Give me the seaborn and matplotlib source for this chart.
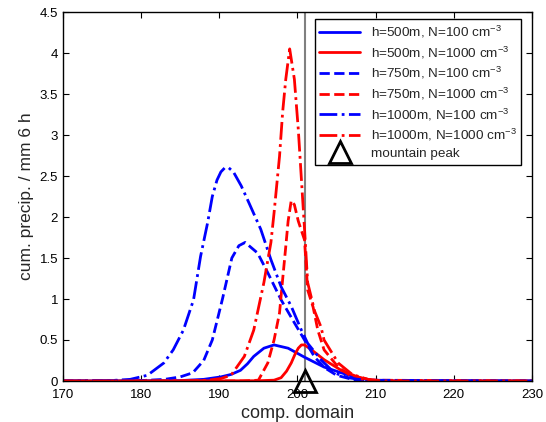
import matplotlib
matplotlib.use('Agg')
import matplotlib.pyplot as plt
import seaborn as sns

# Curves (x = comp. domain, y = cum. precip.)
x_500_100 = [170, 185, 188, 190.2, 191.5, 192.7, 193.6, 194.4, 195.7, 197, 198.8, 200.9, 203.4, 205.6, 207.7, 209.5, 212, 230]
y_500_100 = [0, 0.005, 0.02, 0.05, 0.08, 0.13, 0.21, 0.30, 0.40, 0.44, 0.40, 0.29, 0.17, 0.10, 0.04, 0.01, 0, 0]

x_500_1000 = [170, 195, 197, 197.9, 198.6, 199.2, 199.7, 200.1, 200.5, 200.9, 201.8, 203.4, 205.6, 207.7, 209.5, 212, 230]
y_500_1000 = [0, 0.003, 0.01, 0.04, 0.12, 0.22, 0.33, 0.40, 0.44, 0.44, 0.38, 0.26, 0.13, 0.05, 0.01, 0, 0]

x_750_100 = [170, 180, 183, 185, 186.6, 188, 189.1, 190.4, 191.6, 192.5, 193.3, 194.9, 196.2, 197.9, 199.6, 200.9, 202.2, 203.5, 205, 207, 209, 230]
y_750_100 = [0, 0.005, 0.02, 0.05, 0.10, 0.25, 0.50, 1.00, 1.50, 1.65, 1.69, 1.56, 1.32, 0.99, 0.71, 0.50, 0.29, 0.16, 0.07, 0.02, 0, 0]

x_750_1000 = [170, 193, 195, 196.2, 197, 197.7, 198.1, 198.5, 198.8, 199.2, 199.6, 200.1, 200.9, 201.3, 202, 202.6, 203.4, 205.2, 207, 209, 230]
y_750_1000 = [0, 0, 0.01, 0.22, 0.50, 0.83, 1.24, 1.64, 1.95, 2.20, 2.15, 1.95, 1.72, 1.11, 0.90, 0.62, 0.38, 0.17, 0.05, 0.01, 0]

x_1000_100 = [170, 176, 178.6, 180.8, 182.9, 184.1, 185.4, 186.7, 187.6, 188.5, 189.1, 189.7, 190.2, 190.7, 191.2, 191.8, 192.8, 193.8, 195.3, 196.6, 197.9, 199.2, 200.5, 201.3, 203, 204.7, 206.5, 208.5, 230]
y_1000_100 = [0, 0.005, 0.02, 0.07, 0.22, 0.38, 0.62, 0.99, 1.52, 1.93, 2.25, 2.45, 2.55, 2.60, 2.60, 2.55, 2.38, 2.17, 1.85, 1.48, 1.15, 0.91, 0.62, 0.46, 0.26, 0.10, 0.04, 0.01, 0]

x_1000_1000 = [170, 186, 188.5, 190.2, 191.5, 193.2, 194.4, 195.7, 196.6, 197, 197.7, 198.1, 198.5, 199, 199.6, 200.1, 200.5, 200.9, 201.3, 202.2, 203, 203.4, 205.2, 207, 209, 211, 230]
y_1000_1000 = [0, 0.002, 0.01, 0.03, 0.07, 0.30, 0.62, 1.20, 1.69, 2.05, 2.74, 3.28, 3.68, 4.05, 3.68, 3.07, 2.46, 1.85, 1.20, 0.85, 0.66, 0.50, 0.22, 0.08, 0.02, 0, 0]

mountain_x = 201

sns.set_style('ticks')
plt.rcParams['font.family'] = ['Liberation Sans', 'DejaVu Sans']
plt.rcParams['mathtext.default'] = 'regular'
plt.rcParams['xtick.direction'] = 'in'
plt.rcParams['ytick.direction'] = 'in'

fig = plt.figure(figsize=(5.46, 4.22), dpi=100)
ax = fig.add_axes([63 / 546, 1 - 381 / 422, 469 / 546, 369 / 422])

lw = 2
series = [
    (x_500_100, y_500_100, 'blue', '-', 'h=500m, N=100 cm$^{-3}$'),
    (x_500_1000, y_500_1000, 'red', '-', 'h=500m, N=1000 cm$^{-3}$'),
    (x_750_100, y_750_100, 'blue', '--', 'h=750m, N=100 cm$^{-3}$'),
    (x_750_1000, y_750_1000, 'red', '--', 'h=750m, N=1000 cm$^{-3}$'),
    (x_1000_100, y_1000_100, 'blue', '-.', 'h=1000m, N=100 cm$^{-3}$'),
    (x_1000_1000, y_1000_1000, 'red', '-.', 'h=1000m, N=1000 cm$^{-3}$'),
]
for xs, ys, c, ls, lab in series:
    sns.lineplot(x=xs, y=ys, ax=ax, color=c, linestyle=ls, linewidth=lw, label=lab)

# mountain position
ax.axvline(mountain_x, color='#808080', linewidth=1.5, zorder=1)
ax.plot([mountain_x], [0], marker='^', markersize=16, markerfacecolor='none',
        markeredgecolor='black', markeredgewidth=2, linestyle='none',
        clip_on=False, zorder=5, label='mountain peak')

ax.set_xlim(170, 230)
ax.set_ylim(0, 4.5)
ax.set_xticks(range(170, 231, 10))
ax.set_yticks([0, 0.5, 1, 1.5, 2, 2.5, 3, 3.5, 4, 4.5])
ax.set_yticklabels(['0', '0.5', '1', '1.5', '2', '2.5', '3', '3.5', '4', '4.5'])
ax.tick_params(top=True, right=True, length=4, width=0.8, labelsize=9.5, colors='black')
ax.tick_params(axis='x', pad=6)
for s in ax.spines.values():
    s.set_color('black')
    s.set_linewidth(1)

ax.set_xlabel('comp. domain', fontsize=13, labelpad=3)
ax.set_ylabel('cum. precip. / mm 6 h', fontsize=12.5)

leg = ax.legend(loc='upper right', bbox_to_anchor=(0.977, 0.981), borderaxespad=0,
                fontsize=9.7, frameon=True, fancybox=False, framealpha=1,
                edgecolor='black', handlelength=3.0, labelspacing=0.33,
                borderpad=0.35)
leg.get_frame().set_linewidth(1)

fig.savefig('out.png', dpi=100)
